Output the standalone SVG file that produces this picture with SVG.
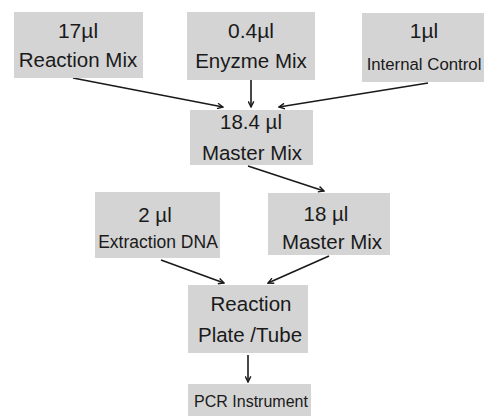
<svg xmlns="http://www.w3.org/2000/svg" width="484" height="416" viewBox="0 0 484 416">
<style>
.box{fill:#d4d4d4;}
text{font-family:"Liberation Sans",Arial,sans-serif;fill:#1a1a1a;text-anchor:middle;}
.big{font-size:21px;}
.mid{font-size:20.5px;}
.sm{font-size:17.5px;}
.xs{font-size:16px;}
.edge{stroke:#1a1a1a;stroke-width:1.6;fill:none;marker-end:url(#ah);}
</style>
<defs>
<marker id="ah" viewBox="0 0 10 10" refX="9" refY="5" markerWidth="7" markerHeight="7" orient="auto" markerUnits="userSpaceOnUse">
<path d="M1,1 L9,5 L1,9" fill="none" stroke="#1a1a1a" stroke-width="2"/>
</marker>
</defs>
<rect width="484" height="416" fill="#ffffff"/>
<g id="edges">
<line class="edge" x1="73" y1="78" x2="223" y2="107"/>
<line class="edge" x1="251" y1="80" x2="251" y2="107"/>
<line class="edge" x1="428" y1="83" x2="279" y2="107"/>
<line class="edge" x1="248" y1="166" x2="324" y2="191"/>
<line class="edge" x1="161" y1="260" x2="224" y2="283"/>
<line class="edge" x1="329" y1="256" x2="268" y2="283"/>
<line class="edge" x1="248" y1="355" x2="248" y2="382"/>
</g>
<g id="reaction-mix">
<rect class="box" x="14" y="12" width="129" height="66"/>
<text class="big" x="78" y="38">17µl</text>
<text class="mid" x="78" y="67">Reaction Mix</text>
</g>
<g id="enzyme-mix">
<rect class="box" x="187" y="12" width="128" height="68"/>
<text class="big" x="251" y="38">0.4µl</text>
<text class="mid" x="251" y="68">Enyzme Mix</text>
</g>
<g id="internal-control">
<rect class="box" x="362" y="13" width="126" height="69"/>
<text class="big" x="424" y="38">1µl</text>
<text x="424" y="70" style="font-size:16.8px">Internal Control</text>
</g>
<g id="master-mix-1">
<rect class="box" x="190" y="110" width="123" height="55"/>
<text class="mid" x="251" y="129">18.4 µl</text>
<text class="mid" x="252" y="160">Master Mix</text>
</g>
<g id="extraction-dna">
<rect class="box" x="95" y="192" width="125" height="66"/>
<text class="mid" x="155" y="222">2 µl</text>
<text class="sm" x="158" y="248">Extraction DNA</text>
</g>
<g id="master-mix-2">
<rect class="box" x="268" y="193" width="122" height="62"/>
<text class="mid" x="326" y="221">18 µl</text>
<text class="mid" x="332" y="249">Master Mix</text>
</g>
<g id="reaction-plate">
<rect class="box" x="188" y="285" width="120" height="68"/>
<text class="mid" x="251" y="311">Reaction</text>
<text class="mid" x="250" y="342">Plate /Tube</text>
</g>
<g id="pcr-instrument">
<rect class="box" x="188" y="384" width="123" height="40"/>
<text class="xs" x="251" y="407">PCR Instrument</text>
</g>
</svg>
